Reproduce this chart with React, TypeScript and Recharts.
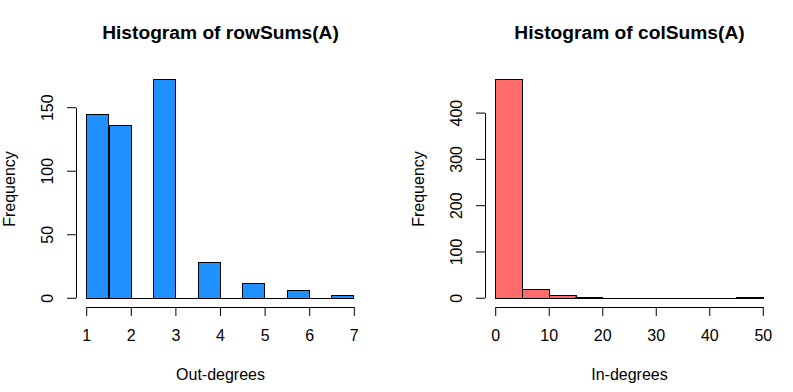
import { Bar, ComposedChart, ReferenceLine, XAxis, YAxis } from 'recharts';

// rowSums(A): out-degree histogram, breaks every 0.5
const outBreaks = [1, 1.5, 2, 2.5, 3, 3.5, 4, 4.5, 5, 5.5, 6, 6.5, 7];
const outCounts = [145, 136, 0, 172, 0, 28, 0, 12, 0, 6, 0, 2];
const outXTicks = [1, 2, 3, 4, 5, 6, 7];
const outYTicks = [0, 50, 100, 150];

// colSums(A): in-degree histogram, breaks every 5
const inBreaks = [0, 5, 10, 15, 20, 25, 30, 35, 40, 45, 50];
const inCounts = [472, 20, 5, 2, 0, 0, 0, 0, 0, 2];
const inXTicks = [0, 10, 20, 30, 40, 50];
const inYTicks = [0, 100, 200, 300, 400];

const FONT = '"Liberation Sans", Arial, sans-serif';
const HEIGHT = 392;
const TOP = 71;
const X_AXIS_H = 85;
const PLOT_W = 289;
// R extends the plot region 4% past the data on each side
const PAD_PX = (PLOT_W * 0.04) / 1.08;

function YTick({ x, y, payload }: any) {
  return (
    <text
      x={x}
      y={y}
      transform={`rotate(-90, ${x}, ${y})`}
      textAnchor="middle"
      fontSize={16}
      fontFamily={FONT}
      fill="#000"
    >
      {payload.value}
    </text>
  );
}

function BinRect({ x, y, width, height, fill }: any) {
  // path instead of rect so empty bins still leave a line on the baseline
  return (
    <path
      d={`M${x},${y}h${width}v${height}h${-width}Z`}
      fill={fill}
      stroke="#000"
      strokeWidth={1}
      shapeRendering="crispEdges"
    />
  );
}

// R draws axis lines only between the first and last tick
function AxisSegment({ x1, y1, x2, y2 }: any) {
  return <line x1={x1} y1={y1} x2={x2} y2={y2} stroke="#000" strokeWidth={1} shapeRendering="crispEdges" />;
}

function Histogram({
  breaks,
  counts,
  xTicks,
  yTicks,
  fill,
  width,
  yAxisWidth,
  marginRight,
}: {
  breaks: number[];
  counts: number[];
  xTicks: number[];
  yTicks: number[];
  fill: string;
  width: number;
  yAxisWidth: number;
  marginRight: number;
}) {
  const data = counts.map((c, i) => ({
    bin: `${breaks[i]}-${breaks[i + 1]}`,
    mid: (breaks[i] + breaks[i + 1]) / 2,
    count: c,
  }));
  const lo = breaks[0];
  const hi = breaks[breaks.length - 1];
  const xPad = 0.04 * (hi - lo);
  const ymax = Math.max(...counts);
  const yLo = -0.04 * ymax;
  const yHi = 1.04 * ymax;

  return (
    <ComposedChart
      width={width}
      height={HEIGHT}
      data={data}
      margin={{ top: TOP, right: marginRight, bottom: 0, left: 0 }}
      barCategoryGap={0}
      barGap={0}
    >
      <XAxis
        xAxisId="a"
        dataKey="mid"
        type="number"
        domain={[lo - xPad, hi + xPad]}
        allowDataOverflow
        ticks={xTicks}
        interval={0}
        height={X_AXIS_H}
        axisLine={false}
        tickLine={{ stroke: '#000' }}
        tickSize={9}
        tickMargin={14}
        tick={{ fill: '#000', fontSize: 16, fontFamily: FONT }}
      />
      <XAxis
        xAxisId="b"
        dataKey="bin"
        type="category"
        hide
        padding={{ left: PAD_PX, right: PAD_PX }}
      />
      <YAxis
        type="number"
        domain={[yLo, yHi]}
        allowDataOverflow
        ticks={yTicks}
        interval={0}
        width={yAxisWidth}
        axisLine={false}
        tickLine={{ stroke: '#000' }}
        tickSize={9}
        tickMargin={14}
        tick={<YTick />}
      />
      <Bar
        xAxisId="b"
        dataKey="count"
        fill={fill}
        shape={<BinRect />}
        isAnimationActive={false}
      />
      <ReferenceLine
        xAxisId="a"
        segment={[
          { x: lo, y: yLo },
          { x: hi, y: yLo },
        ]}
        ifOverflow="visible"
        shape={<AxisSegment />}
      />
      <ReferenceLine
        xAxisId="a"
        segment={[
          { x: lo - xPad, y: yTicks[0] },
          { x: lo - xPad, y: yTicks[yTicks.length - 1] },
        ]}
        ifOverflow="visible"
        shape={<AxisSegment />}
      />
    </ComposedChart>
  );
}

export default function App() {
  const leftAxisX = 76;
  const rightAxisX = 396 + 89;
  const textStyle = { fontFamily: FONT, fill: '#000' };
  return (
    <div style={{ position: 'absolute', left: 0, top: 0, width: 793, height: HEIGHT, background: '#fff' }}>
      <div style={{ position: 'absolute', left: 0, top: 0 }}>
        <Histogram
          breaks={outBreaks}
          counts={outCounts}
          xTicks={outXTicks}
          yTicks={outYTicks}
          fill="#1E90FF"
          width={396}
          yAxisWidth={76}
          marginRight={31}
        />
      </div>
      <div style={{ position: 'absolute', left: 396, top: 0 }}>
        <Histogram
          breaks={inBreaks}
          counts={inCounts}
          xTicks={inXTicks}
          yTicks={inYTicks}
          fill="#FF6A6A"
          width={397}
          yAxisWidth={89}
          marginRight={19}
        />
      </div>
      <svg
        width={793}
        height={HEIGHT}
        style={{ position: 'absolute', left: 0, top: 0, pointerEvents: 'none' }}
      >
        <text x={leftAxisX + PLOT_W / 2} y={39} textAnchor="middle" fontSize={19.2} fontWeight="bold" {...textStyle}>
          Histogram of rowSums(A)
        </text>
        <text x={rightAxisX + PLOT_W / 2} y={39} textAnchor="middle" fontSize={19.2} fontWeight="bold" {...textStyle}>
          Histogram of colSums(A)
        </text>
        <text x={leftAxisX + PLOT_W / 2} y={380} textAnchor="middle" fontSize={16} {...textStyle}>
          Out-degrees
        </text>
        <text x={rightAxisX + PLOT_W / 2} y={380} textAnchor="middle" fontSize={16} {...textStyle}>
          In-degrees
        </text>
        <text
          x={leftAxisX - 61}
          y={TOP + 118}
          transform={`rotate(-90, ${leftAxisX - 61}, ${TOP + 118})`}
          textAnchor="middle"
          fontSize={16}
          {...textStyle}
        >
          Frequency
        </text>
        <text
          x={rightAxisX - 61}
          y={TOP + 118}
          transform={`rotate(-90, ${rightAxisX - 61}, ${TOP + 118})`}
          textAnchor="middle"
          fontSize={16}
          {...textStyle}
        >
          Frequency
        </text>
      </svg>
    </div>
  );
}
